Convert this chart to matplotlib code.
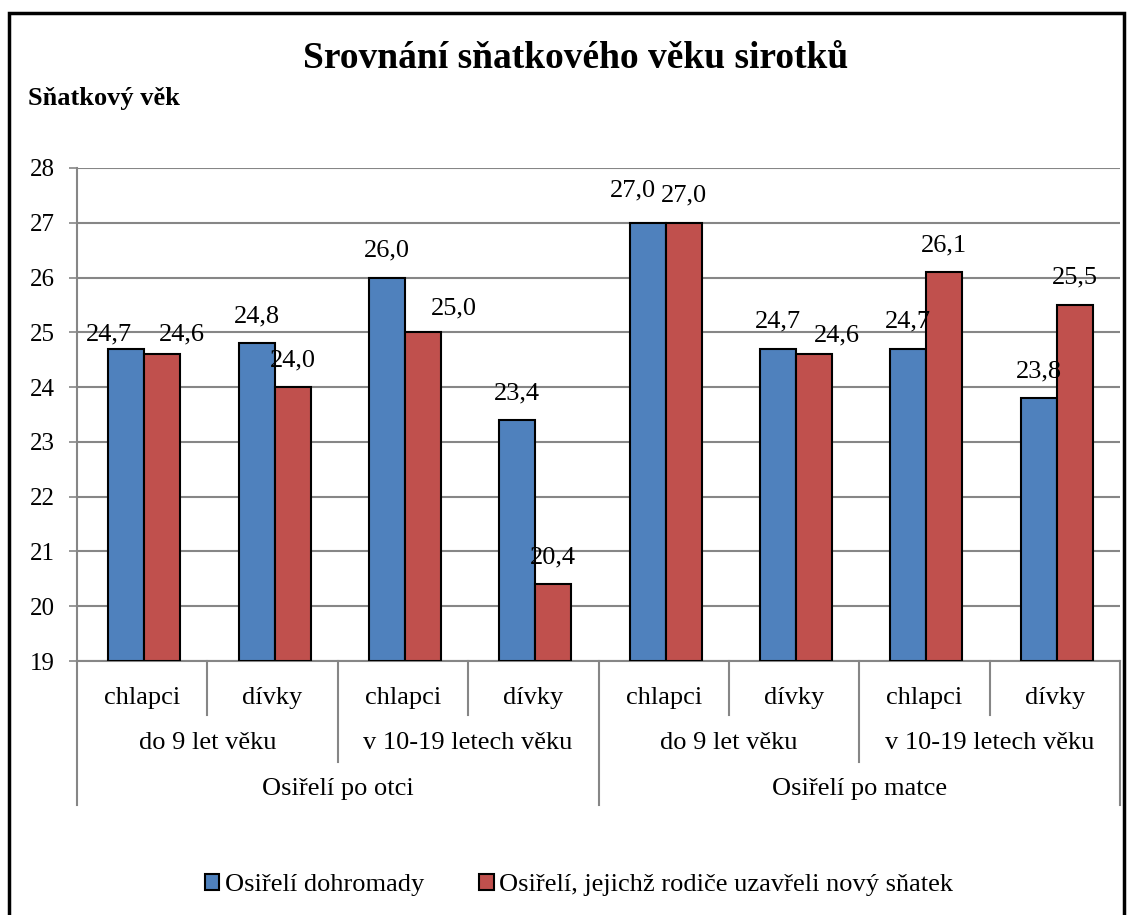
import matplotlib
matplotlib.use('Agg')
import matplotlib.pyplot as plt
import matplotlib.transforms as mtransforms
from matplotlib.patches import Rectangle
import numpy as np

plt.rcParams['font.family'] = ['Liberation Serif', 'DejaVu Serif']

# data
TITLE = 'Srovnání sňatkového věku sirotků'
YLABEL = 'Sňatkový věk'
pohlavi = ['chlapci', 'dívky', 'chlapci', 'dívky', 'chlapci', 'dívky', 'chlapci', 'dívky']
vek = ['do 9 let věku', 'v 10-19 letech věku', 'do 9 let věku', 'v 10-19 letech věku']
sirotci = ['Osiřelí po otci', 'Osiřelí po matce']
serie = ['Osiřelí dohromady', 'Osiřelí, jejichž rodiče uzavřeli nový sňatek']
dohromady = [24.7, 24.8, 26.0, 23.4, 27.0, 24.7, 24.7, 23.8]
novy_snatek = [24.6, 24.0, 25.0, 20.4, 27.0, 24.6, 26.1, 25.5]
yticks = [19, 20, 21, 22, 23, 24, 25, 26, 27, 28]

COLORS = ['#4F81BD', '#C0504D']
GRID = '#868686'
W, H = 1133, 915

# label nudges (pixels) where Excel moved labels apart
NUDGE = {(0, 0): (-17, -13), (1, 0): (20, -7), (1, 2): (31, -3),
         (0, 4): (-15, 5), (1, 5): (23, -8)}


def px(x):
    return x / W


def py(y):
    return 1 - y / H


fig = plt.figure(figsize=(W / 100, H / 100), dpi=100)
ax = fig.add_axes([px(77), py(661), (1120 - 77) / W, (661 - 168) / H])

x = np.arange(len(pohlavi))
bw = 0.276
for s, (vals, off) in enumerate([(dohromady, -bw / 2), (novy_snatek, bw / 2)]):
    bars = ax.bar(x + off + 0.015, np.array(vals) - 19, bw, bottom=19, color=COLORS[s],
                  edgecolor='black', linewidth=1.5, label=serie[s], zorder=3)
    for i, b in enumerate(bars):
        dx, dy = NUDGE.get((s, i), (0, 0))
        ax.annotate(f'{vals[i]:.1f}'.replace('.', ','),
                    (b.get_x() + b.get_width() / 2, vals[i]),
                    xytext=(dx, 27 + dy), textcoords='offset pixels',
                    ha='center', va='center', fontsize=19, zorder=4)

ax.set_xlim(-0.5, 7.5)
ax.set_ylim(19, 28)
ax.set_yticks(yticks)
ax.set_yticklabels([str(t) for t in yticks], fontsize=18)
ax.tick_params(axis='y', length=6, width=1.2, color=GRID, pad=10)
ax.set_xticks([])
ax.yaxis.grid(True, color=GRID, linewidth=1.5, zorder=0)
for side in ['top', 'right']:
    ax.spines[side].set_visible(False)
ax.spines['left'].set_color(GRID)
ax.spines['bottom'].set_color(GRID)
ax.spines['left'].set_linewidth(1.5)
ax.spines['bottom'].set_linewidth(1.5)

# multi-level category axis
trans = mtransforms.blended_transform_factory(ax.transData, fig.transFigure)
for b in np.arange(-0.5, 8, 1.0):
    if b in (-0.5, 3.5, 7.5):
        end = 805
    elif b in (1.5, 5.5):
        end = 762
    else:
        end = 715
    ax.plot([b, b], [py(661), py(end)], color=GRID, linewidth=1.5,
            transform=trans, clip_on=False)
for i, lab in enumerate(pohlavi):
    ax.text(i, py(698), lab, transform=trans, ha='center', va='center', fontsize=19)
for i, lab in enumerate(vek):
    ax.text(2 * i + 0.5, py(743), lab, transform=trans, ha='center', va='center', fontsize=19)
for i, lab in enumerate(sirotci):
    ax.text(4 * i + 1.5, py(789), lab, transform=trans, ha='center', va='center', fontsize=19)

fig.text(px(576), py(58), TITLE, ha='center', va='center', fontsize=27, fontweight='bold')
fig.text(px(28), py(98), YLABEL, ha='left', va='center', fontsize=19, fontweight='bold')

fig.legend(loc='center', bbox_to_anchor=(px(579), py(885)), ncol=2, frameon=False,
           fontsize=19, handlelength=0.55, handleheight=0.55, handletextpad=0.2,
           columnspacing=2.1)

fig.patches.append(Rectangle((px(9), -0.05), (1124 - 9) / W, py(13) + 0.05,
                             transform=fig.transFigure, fill=False,
                             edgecolor='black', linewidth=2.5))

fig.savefig('out.png', dpi=100)
